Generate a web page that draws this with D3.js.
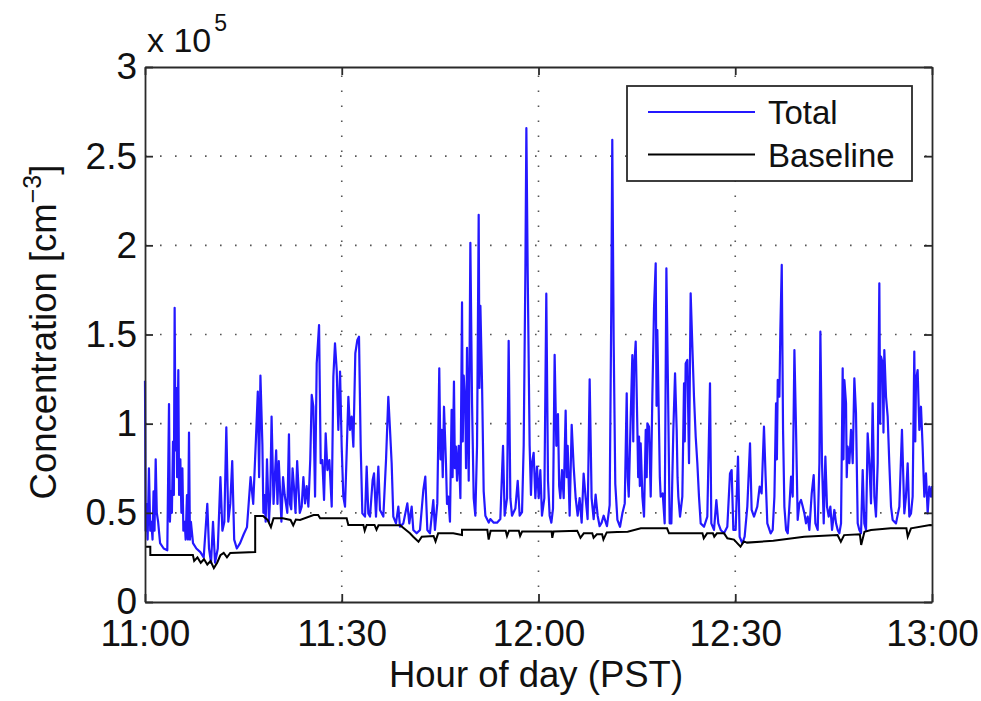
<!DOCTYPE html>
<html>
<head>
<meta charset="utf-8">
<script src="https://cdn.jsdelivr.net/npm/d3@7"></script>
<style>
  html, body { margin: 0; padding: 0; background: #fff; }
  svg { display: block; font-family: "Liberation Sans", Arial, Helvetica, sans-serif; }
</style>
</head>
<body>
<svg id="chart" width="981" height="701"></svg>
<script>
// ---- DATA (time in minutes after 11:00 PST, concentration in units of 1e5 cm^-3) ----
const xTickMinutes = [0, 30, 60, 90, 120];
const xTickLabels = ["11:00", "11:30", "12:00", "12:30", "13:00"];
const yTickValues = [0, 0.5, 1, 1.5, 2, 2.5, 3];
const yTickLabels = ["0", "0.5", "1", "1.5", "2", "2.5", "3"];
const seriesNames = ["Total", "Baseline"];

const totalSeries = [
 [0.0,1.24],[0.1,0.40],[0.2,0.55],[0.4,0.35],[0.6,0.75],[0.8,0.40],[0.97,0.45],[1.15,0.35],[1.3,0.62],[1.45,0.40],[1.63,0.80],[1.8,0.50],[2.0,0.45],[2.3,0.33],[2.85,0.30],[3.4,0.29],
 [3.66,1.11],[3.8,0.45],[3.97,0.62],[4.1,0.50],[4.27,0.90],[4.4,0.60],[4.52,1.65],[4.65,0.85],[4.78,1.20],[4.9,0.70],[5.08,1.30],[5.2,0.60],[5.39,0.80],[5.55,0.50],[5.7,0.75],[5.85,0.40],[6.05,0.45],[6.2,0.35],[6.4,0.60],[6.55,0.35],
 [6.71,0.95],[6.85,0.35],[7.0,0.45],[7.32,0.33],[7.83,0.30],[8.44,0.28],[8.95,0.25],[9.5,0.55],[9.76,0.30],[10.07,0.22],[10.37,0.45],
 [10.68,0.22],[11.1,0.30],[11.5,0.70],[11.8,0.40],[12.1,0.45],[12.4,0.98],[12.7,0.45],[13.0,0.55],[13.3,0.79],[13.6,0.35],
 [14.0,0.30],[14.5,0.33],[15.05,0.38],[15.55,0.42],[16.1,0.70],[16.5,0.55],[16.9,0.90],[17.2,1.18],[17.4,0.70],[17.6,1.27],[17.9,0.88],
 [18.05,0.50],[18.2,0.60],[18.4,0.45],[18.6,0.80],[18.9,0.45],[19.1,0.60],[19.3,1.04],[19.6,0.55],[19.8,0.70],[20.0,0.85],[20.2,0.55],[20.4,0.79],[20.8,0.45],[21.05,0.70],[21.3,0.60],[21.7,0.50],
 [21.95,0.94],[22.1,0.55],[22.3,0.52],[22.5,0.75],[22.7,0.65],[22.95,0.50],[23.2,0.79],[23.6,0.50],
 [23.89,0.535],[24.15,0.70],[24.40,0.553],[24.65,0.65],[24.91,0.535],[25.2,0.80],[25.42,1.161],[25.67,1.095],[25.93,0.591],[26.18,1.338],[26.54,1.553],[26.79,0.778],
 [27.04,0.796],[27.30,0.572],[27.55,0.946],[27.81,0.740],[28.11,0.796],[28.47,0.535],[28.72,1.264],[28.97,1.451],[29.23,1.301],
 [29.48,0.965],[29.74,1.292],[29.99,0.871],[30.24,0.591],[30.50,0.535],[31.01,1.151],[31.26,0.965],[31.51,1.040],[31.77,0.871],
 [32.07,1.395],[32.38,1.469],[32.63,1.488],[32.89,0.871],[33.14,0.497],[33.55,0.479],[33.80,0.759],[34.05,0.497],[34.31,0.479],
 [34.71,0.684],[34.92,0.721],[35.22,0.479],[35.58,0.759],[35.83,0.516],[36.34,0.479],[36.75,0.796],[37.10,1.151],[37.36,0.965],
 [37.61,0.778],[37.86,0.479],[38.27,0.441],[38.63,0.535],[38.88,0.422],[39.39,0.441],[40.00,0.553],[40.30,0.441],[40.66,0.535],
 [40.91,0.404],[41.42,0.385],[41.93,0.404],[42.44,0.628],[42.74,0.703],[43.05,0.404],[43.45,0.385],[43.96,0.572],[44.21,0.404],
 [44.57,0.553],[44.87,1.310],[45.05,0.80],[45.23,0.965],[45.4,0.70],[45.59,1.095],[45.89,0.778],[46.05,0.55],[46.25,0.591],[46.5,0.45],[46.75,1.077],[46.9,0.70],[47.11,1.236],[47.25,0.75],[47.41,0.871],
 [47.58,0.680],[47.83,0.876],[48.09,0.582],[48.34,1.680],[48.45,0.90],[48.60,1.269],[48.85,1.073],[48.95,0.75],[49.10,1.425],[49.36,0.680],[49.61,2.014],
 [49.87,1.112],[50.12,0.582],[50.37,0.484],[50.63,0.876],[50.88,2.171],[51.0,1.20],[51.14,1.661],[51.39,1.229],[51.64,0.622],[51.90,0.484],
 [52.15,0.465],[52.41,0.445],[52.66,0.465],[53.17,0.445],[53.68,0.445],[54.18,0.465],[54.59,0.876],[54.84,0.484],[55.20,0.582],
 [55.45,1.465],[55.71,0.582],[55.96,0.484],[56.47,0.524],[56.83,0.680],[57.13,0.484],[57.49,0.504],[57.74,0.876],[58.00,1.857],
 [58.15,2.657],[58.35,1.857],[58.65,0.876],[58.85,0.60],[59.01,0.778],[59.26,0.837],[59.52,0.582],[59.77,0.759],[60.03,0.582],[60.28,0.739],
 [60.53,0.484],[60.89,0.582],[61.19,1.729],[61.45,0.680],[61.70,0.484],[61.96,0.445],[62.21,0.524],[62.46,1.386],[62.72,0.876],
 [62.97,1.053],[63.15,0.65],[63.33,0.582],[63.58,0.739],[63.84,0.582],[64.14,1.073],[64.3,0.70],[64.45,0.876],[64.75,0.484],[65.06,0.994],[65.36,0.759],
 [65.67,0.582],[65.97,0.484],[66.27,0.582],[66.58,0.445],[66.88,0.720],[67.19,0.582],[67.49,0.465],[67.80,1.249],[68.10,0.582],
 [68.41,0.465],[68.71,0.602],[69.02,0.484],[69.32,0.425],[69.63,0.445],[69.93,0.484],[70.44,0.425],[70.85,0.543],[71.10,1.661],
 [71.25,2.592],[71.46,1.465],[71.71,0.661],
 [72.03,0.460],[72.43,0.422],[72.79,0.497],[73.15,0.553],[73.45,1.170],[73.6,0.70],[73.76,0.591],[74.06,1.040],[74.31,1.385],[74.45,0.90],[74.57,1.301],
 [74.82,1.460],[75.08,0.965],[75.2,0.70],[75.33,0.927],[75.45,0.65],[75.58,0.890],[75.84,0.591],[76.09,0.479],[76.35,0.965],[76.5,0.70],[76.60,1.002],[76.85,0.983],
 [77.11,0.591],[77.36,1.151],[77.62,1.656],[77.87,1.899],[78.0,1.10],[78.12,1.525],[78.38,0.965],[78.5,0.70],[78.63,0.591],[78.94,0.609],[79.24,0.441],
 [79.50,1.871],[79.75,1.189],[80.00,0.441],[80.26,0.441],[80.56,0.965],[80.82,1.282],[81.07,0.965],[81.2,0.70],[81.32,0.591],[81.58,0.479],
 [81.93,0.591],[82.19,1.226],[82.3,0.90],[82.44,1.338],[82.70,1.357],[82.95,0.778],[83.20,1.731],[83.46,1.432],[83.71,1.151],[83.97,0.927],
 [84.22,0.778],[84.47,0.591],[84.73,0.441],[85.24,0.422],[85.74,0.479],[86.15,1.226],[86.35,0.441],[86.76,0.404],[87.12,0.572],
 [87.42,0.441],[87.78,0.404],[88.28,0.385],[88.79,0.422],[89.20,0.721],[89.45,0.740],[89.71,0.404],[90.06,0.404],[90.42,0.815],
 [90.67,0.366],[91.08,0.329],[91.43,0.366],[91.84,0.535],[92.25,0.890],[92.50,0.516],[92.86,0.479],[93.36,0.535],[93.72,0.647],
 [94.02,0.609],[94.38,0.983],[94.63,0.703],[94.89,0.441],[95.40,0.385],
 [95.71,0.404],[95.97,0.591],[96.22,1.114],[96.35,0.80],[96.48,1.245],[96.73,1.151],[96.88,1.525],[97.09,1.890],[97.29,0.965],[97.49,0.535],
 [97.75,0.404],[98.00,0.385],[98.25,0.535],[98.51,0.703],[98.76,0.591],[99.02,1.413],[99.27,0.965],[99.52,0.460],[99.78,0.553],
 [100.03,0.572],[100.29,0.535],[100.54,0.497],[100.79,0.441],[101.05,0.479],[101.30,0.404],[101.66,0.609],[101.96,0.712],
 [102.22,0.441],[102.57,0.404],[102.83,0.778],[102.98,1.516],[103.23,0.778],[103.49,0.441],[103.74,0.815],[103.99,0.535],
 [104.25,0.479],[104.50,0.535],[104.76,0.404],[105.11,0.516],[105.37,0.441],[105.62,0.404],[105.87,0.385],[106.13,0.441],
 [106.38,1.310],[106.5,0.80],[106.64,1.245],[106.89,1.114],[107.0,0.70],[107.14,0.871],[107.40,0.778],[107.65,0.965],[107.91,0.778],[108.16,1.254],
 [108.41,1.058],[108.67,0.441],[108.92,0.404],[109.18,0.385],[109.43,0.740],[109.68,0.441],[109.94,0.404],[110.19,0.946],
 [110.45,0.778],[110.70,0.553],[110.95,1.114],[111.21,0.591],[111.46,0.479],[111.72,0.778],[111.97,1.787],[112.1,1.00],[112.22,1.376],
 [112.48,1.338],[112.6,0.95],[112.73,1.413],[112.99,1.151],[113.24,1.040],[113.49,0.778],[113.75,0.535],[114.00,0.460],[114.51,0.441],
 [115.02,0.535],[115.42,0.965],[115.78,0.497],[116.03,0.591],[116.29,0.778],[116.54,0.479],[116.80,0.497],[117.05,0.591],
 [117.30,1.404],[117.45,0.90],[117.56,1.245],[117.81,1.301],[118.07,0.965],[118.32,1.095],[118.57,0.871],[118.83,0.591],[119.08,0.721],
 [119.34,0.497],[119.59,0.647],[119.85,0.591],[120.0,0.65]
];

const baselineSeries = [
 [0,0.31],[0.81,0.31],[0.81,0.264],[7.3,0.264],[7.5,0.23],[8.0,0.25],[8.5,0.22],[9.0,0.24],[9.5,0.21],[10.0,0.23],
 [10.5,0.19],[11.0,0.22],[11.5,0.262],[12.0,0.275],[12.5,0.25],[13.0,0.275],[16.8,0.28],[16.8,0.482],[18.0,0.482],
 [18.7,0.46],[19.2,0.42],[19.6,0.47],[21.0,0.47],[22.2,0.46],[22.6,0.43],[23.0,0.462],[23.64,0.46],[25.7,0.488],
 [26.4,0.488],[26.7,0.469],[30.75,0.469],[31.0,0.432],[33.3,0.432],[33.5,0.40],[33.8,0.432],[35.0,0.432],[35.3,0.405],
 [35.6,0.43],[38.9,0.43],[40.4,0.385],[40.9,0.366],[41.7,0.338],[42.2,0.366],[44.0,0.37],[44.3,0.34],[44.7,0.385],
 [47.0,0.385],[48.34,0.376],[48.34,0.405],[52.2,0.405],[52.4,0.35],[52.7,0.40],[55.0,0.40],[55.2,0.37],[55.5,0.40],
 [57.0,0.40],[57.2,0.37],[57.5,0.395],[62.0,0.395],[62.1,0.36],[62.3,0.395],[65.9,0.40],[66.4,0.36],[66.9,0.385],
 [68.2,0.385],[68.4,0.36],[68.9,0.38],[69.7,0.38],[69.9,0.35],[70.4,0.39],[72.0,0.392],[73.6,0.394],[75.6,0.413],
 [79.6,0.413],[79.9,0.385],[85.0,0.385],[85.2,0.357],[85.7,0.385],[86.6,0.385],[86.8,0.366],[87.2,0.385],[88.3,0.385],
 [88.8,0.357],[89.8,0.35],[90.8,0.31],[91.3,0.34],[91.8,0.333],[95.8,0.343],[100.5,0.366],[105.6,0.375],[106.1,0.338],
 [106.6,0.375],[109.0,0.38],[109.2,0.32],[109.7,0.394],[110.7,0.404],[113.7,0.413],[116.1,0.413],[116.3,0.366],
 [116.8,0.413],[119.7,0.432],[120,0.43]
];

// ---- LAYOUT ----
const svg = d3.select("#chart");
const plotLeft = 145, plotRight = 932, plotTop = 67, plotBottom = 602;

const x = d3.scaleLinear().domain([0, 120]).range([plotLeft, plotRight]);
const y = d3.scaleLinear().domain([0, 3]).range([plotBottom, plotTop]);

const tickFont = 37;
const titleFont = 36.5;
const legendFont = 33;
const axisColor = "#2a2a2a";
const totalColor = "#2418ff";

// grid (dotted)
const grid = svg.append("g").attr("class", "grid");
grid.selectAll("line.gy").data(yTickValues.filter(v => v > 0 && v < 3)).enter()
  .append("line")
  .attr("x1", plotLeft).attr("x2", plotRight)
  .attr("y1", d => y(d)).attr("y2", d => y(d))
  .attr("stroke", "#555").attr("stroke-width", 1.6)
  .attr("stroke-dasharray", "1.6,13.4");
grid.selectAll("line.gx").data(xTickMinutes.filter(v => v > 0 && v < 120)).enter()
  .append("line")
  .attr("y1", plotBottom).attr("y2", plotTop)
  .attr("x1", d => x(d)).attr("x2", d => x(d))
  .attr("stroke", "#555").attr("stroke-width", 1.6)
  .attr("stroke-dasharray", "1.6,13.4");

// series
const line = d3.line().x(d => x(d[0])).y(d => y(d[1]));
svg.append("path").datum(totalSeries)
  .attr("fill", "none").attr("stroke", totalColor).attr("stroke-width", 2.2)
  .attr("stroke-linejoin", "round")
  .attr("d", line);
svg.append("path").datum(baselineSeries)
  .attr("fill", "none").attr("stroke", "#000").attr("stroke-width", 2)
  .attr("d", line);

// axes (MATLAB style: inward ticks, full box)
const tickLen = 8;
const yAxisL = d3.axisLeft(y).tickValues(yTickValues).tickSizeInner(-tickLen).tickSizeOuter(0)
  .tickFormat((d, i) => yTickLabels[i]).tickPadding(8);
const yAxisR = d3.axisRight(y).tickValues(yTickValues).tickSizeInner(-tickLen).tickSizeOuter(0).tickFormat("");
const xAxisB = d3.axisBottom(x).tickValues(xTickMinutes).tickSizeInner(-tickLen).tickSizeOuter(0)
  .tickFormat((d, i) => xTickLabels[i]).tickPadding(18);
const xAxisT = d3.axisTop(x).tickValues(xTickMinutes).tickSizeInner(-tickLen).tickSizeOuter(0).tickFormat("");

function styleAxis(g) {
  g.select(".domain").attr("stroke", axisColor).attr("stroke-width", 1.8);
  g.selectAll(".tick line").attr("stroke", axisColor).attr("stroke-width", 1.8);
  g.selectAll(".tick text").attr("fill", "#111").style("font-size", tickFont + "px")
    .style("font-family", '"Liberation Sans", Arial, sans-serif');
}
svg.append("g").attr("transform", `translate(${plotLeft},0)`).call(yAxisL).call(styleAxis);
svg.append("g").attr("transform", `translate(${plotRight},0)`).call(yAxisR).call(styleAxis);
svg.append("g").attr("transform", `translate(0,${plotBottom})`).call(xAxisB).call(styleAxis);
svg.append("g").attr("transform", `translate(0,${plotTop})`).call(xAxisT).call(styleAxis);

// exponent label
const expo = svg.append("text").attr("x", 147).attr("y", 52)
  .attr("fill", "#111").style("font-size", "34px");
expo.append("tspan").text("x 10");
expo.append("tspan").attr("dy", -21).attr("dx", 3).style("font-size", "23px").text("5");

// axis titles
svg.append("text")
  .attr("x", 536).attr("y", 687)
  .attr("text-anchor", "middle").attr("fill", "#111")
  .style("font-size", titleFont + "px")
  .text("Hour of day (PST)");

const yt = svg.append("text")
  .attr("transform", `translate(56,332) rotate(-90)`)
  .attr("text-anchor", "middle").attr("fill", "#111")
  .style("font-size", titleFont + "px");
yt.append("tspan").text("Concentration [cm");
yt.append("tspan").attr("dy", -15).style("font-size", "25px").text("\u22123");
yt.append("tspan").attr("dy", 15).text("]");

// legend
const lg = svg.append("g");
lg.append("rect").attr("x", 627).attr("y", 86).attr("width", 285).attr("height", 95)
  .attr("fill", "#fff").attr("stroke", axisColor).attr("stroke-width", 1.8);
const legendColors = [totalColor, "#000"];
seriesNames.forEach((name, i) => {
  const ly = 112 + i * 42.5;
  lg.append("line").attr("x1", 648).attr("x2", 755).attr("y1", ly).attr("y2", ly)
    .attr("stroke", legendColors[i]).attr("stroke-width", 1.8);
  lg.append("text").attr("x", 768).attr("y", ly + 12).attr("fill", "#111")
    .style("font-size", legendFont + "px").text(name);
});
</script>
</body>
</html>
